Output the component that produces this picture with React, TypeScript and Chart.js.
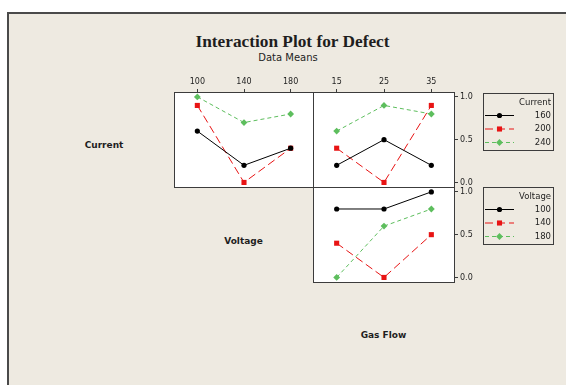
import React, { useEffect, useRef } from 'react';
import { Chart, registerables } from 'chart.js';

Chart.register(...registerables);

// Factor levels
const voltageLevels = ['100', '140', '180'];
const gasFlowLevels = ['15', '25', '35'];
const currentLevels = ['160', '200', '240'];
const meanTicks = [0, 0.5, 1.0];

// Mean defect for each Current level across Voltage
const current160ByVoltage = [0.6, 0.2, 0.4];
const current200ByVoltage = [0.9, 0.0, 0.4];
const current240ByVoltage = [1.0, 0.7, 0.8];

// Mean defect for each Current level across Gas Flow
const current160ByGasFlow = [0.2, 0.5, 0.2];
const current200ByGasFlow = [0.4, 0.0, 0.9];
const current240ByGasFlow = [0.6, 0.9, 0.8];

// Mean defect for each Voltage level across Gas Flow
const voltage100ByGasFlow = [0.8, 0.8, 1.0];
const voltage140ByGasFlow = [0.4, 0.0, 0.5];
const voltage180ByGasFlow = [0.0, 0.6, 0.8];

const Y_MIN = -0.065;
const Y_MAX = 1.057;

const AXIS_COLOR = '#3c3c3c';
const TEXT_COLOR = '#1e1e1e';
const BG = '#EEEAE1';

type Marker = 'circle' | 'rect' | 'rectRot';
const SERIES_STYLES: { color: string; dash: number[]; marker: Marker; radius: number }[] = [
  { color: '#000000', dash: [], marker: 'circle', radius: 2.6 },
  { color: '#E81414', dash: [8, 4], marker: 'rect', radius: 3.6 },
  { color: '#5DBE5D', dash: [4, 3], marker: 'rectRot', radius: 3.4 },
];

function drawMarker(ctx: CanvasRenderingContext2D, m: Marker, x: number, y: number, r: number, color: string) {
  ctx.fillStyle = color;
  ctx.beginPath();
  if (m === 'circle') {
    ctx.arc(x, y, r, 0, Math.PI * 2);
  } else if (m === 'rect') {
    const s = r * Math.SQRT1_2;
    ctx.rect(x - s, y - s, 2 * s, 2 * s);
  } else {
    ctx.moveTo(x - r, y);
    ctx.lineTo(x, y - r);
    ctx.lineTo(x + r, y);
    ctx.lineTo(x, y + r);
    ctx.closePath();
  }
  ctx.fill();
}

// White plotting area with a thin frame on all four sides
const panelFrame = {
  id: 'panelFrame',
  beforeDraw(chart: any) {
    const { ctx, chartArea: a } = chart;
    ctx.save();
    ctx.fillStyle = '#ffffff';
    ctx.fillRect(a.left, a.top, a.right - a.left, a.bottom - a.top);
    ctx.restore();
  },
  afterDraw(chart: any) {
    const { ctx, chartArea: a } = chart;
    ctx.save();
    ctx.strokeStyle = AXIS_COLOR;
    ctx.lineWidth = 1;
    ctx.strokeRect(a.left + 0.5, a.top + 0.5, a.right - a.left - 1, a.bottom - a.top - 1);
    ctx.restore();
  },
};

function makeLegend(title: string, offsetTop: number) {
  return {
    id: 'factorLegend',
    afterDraw(chart: any) {
      const { ctx, chartArea: a } = chart;
      const x = Math.round(a.right + 28);
      const y = Math.round(a.top + offsetTop);
      const w = 70;
      const h = 57;
      ctx.save();
      ctx.strokeStyle = AXIS_COLOR;
      ctx.lineWidth = 1;
      ctx.strokeRect(x + 0.5, y + 0.5, w, h);
      ctx.font = '8.5px "DejaVu Sans"';
      ctx.textAlign = 'right';
      ctx.textBaseline = 'middle';
      ctx.fillStyle = TEXT_COLOR;
      const tx = x + w - 2;
      ctx.fillText(title, tx, y + 10);
      chart.data.datasets.forEach((ds: any, i: number) => {
        const st = SERIES_STYLES[i];
        const cy = y + 22.5 + i * 13.5;
        ctx.strokeStyle = st.color;
        ctx.setLineDash(st.dash);
        ctx.beginPath();
        ctx.moveTo(x + 2, cy);
        ctx.lineTo(x + 31, cy);
        ctx.stroke();
        ctx.setLineDash([]);
        drawMarker(ctx, st.marker, x + 16.5, cy, st.radius, st.color);
        ctx.fillStyle = TEXT_COLOR;
        ctx.fillText(String(ds.label), tx, cy);
      });
      ctx.restore();
    },
  };
}

type PanelProps = {
  left: number;
  top: number;
  width: number;
  height: number;
  categories: string[];
  series: number[][];
  names: string[];
  showX: boolean;
  showY: boolean;
  topAxis: number;
  rightAxis: number;
  padBottom: number;
  legendTitle?: string;
  legendTop?: number;
};

function Panel(p: PanelProps) {
  const ref = useRef<HTMLCanvasElement>(null);
  useEffect(() => {
    if (!ref.current) return;
    const tickFont = { family: 'DejaVu Sans', size: 8 };
    const plugins: any[] = [panelFrame];
    if (p.legendTitle) plugins.push(makeLegend(p.legendTitle, p.legendTop || 0));
    const chart = new Chart(ref.current, {
      type: 'line',
      data: {
        labels: p.categories,
        datasets: p.series.map((d, i) => {
          const st = SERIES_STYLES[i];
          return {
            label: p.names[i],
            data: d,
            borderColor: st.color,
            backgroundColor: st.color,
            borderWidth: 1,
            borderDash: st.dash,
            pointStyle: st.marker,
            pointRadius: st.radius,
            pointBorderWidth: 0,
            pointBackgroundColor: st.color,
            tension: 0,
            fill: false,
            clip: false as any,
          };
        }),
      },
      options: {
        animation: false,
        responsive: false,
        maintainAspectRatio: false,
        devicePixelRatio: 1,
        events: [],
        layout: { autoPadding: false, padding: { top: 0, left: 0, right: 0, bottom: p.padBottom } },
        plugins: {
          legend: { display: false },
          tooltip: { enabled: false },
          title: { display: false },
        },
        scales: {
          x: {
            type: 'category',
            position: 'top',
            offset: true,
            display: p.showX,
            grid: { drawOnChartArea: false, tickLength: 3, color: AXIS_COLOR, offset: false },
            border: { display: false },
            ticks: { color: TEXT_COLOR, font: tickFont, padding: 2, maxRotation: 0, autoSkip: false },
            afterFit: (s: any) => {
              s.height = p.topAxis;
              s.paddingLeft = 0;
              s.paddingRight = 0;
            },
          },
          y: {
            type: 'linear',
            position: 'right',
            min: Y_MIN,
            max: Y_MAX,
            bounds: 'data',
            display: p.showY,
            grid: { drawOnChartArea: false, tickLength: 3, color: AXIS_COLOR },
            border: { display: false },
            afterBuildTicks: (s: any) => {
              s.ticks = meanTicks.map((v) => ({ value: v }));
            },
            ticks: {
              color: TEXT_COLOR,
              font: tickFont,
              padding: 2,
              callback: (v: any) => Number(v).toFixed(1),
            },
            afterFit: (s: any) => {
              s.width = p.rightAxis;
              s.paddingTop = 0;
              s.paddingBottom = 0;
            },
          },
        },
      } as any,
      plugins,
    });
    return () => chart.destroy();
  }, []);
  return (
    <canvas
      ref={ref}
      width={p.width}
      height={p.height}
      style={{ position: 'absolute', left: p.left, top: p.top, width: p.width, height: p.height }}
    />
  );
}

function Label(props: { text: string; cx: number; top: number; size: number; family: string; bold?: boolean }) {
  const w = 300;
  return (
    <div
      style={{
        position: 'absolute',
        left: props.cx - w / 2,
        top: props.top,
        width: w,
        textAlign: 'center',
        fontFamily: props.family,
        fontSize: props.size,
        lineHeight: `${props.size}px`,
        fontWeight: props.bold ? 'bold' : 'normal',
        color: TEXT_COLOR,
        whiteSpace: 'nowrap',
      }}
    >
      {props.text}
    </div>
  );
}

export default function App() {
  return (
    <div style={{ position: 'fixed', left: 0, top: 0, width: 566, height: 387, background: '#ffffff', overflow: 'hidden' }}>
      <div
        style={{
          position: 'absolute',
          left: 7,
          top: 12,
          width: 570,
          height: 373,
          boxSizing: 'border-box',
          background: BG,
          borderTop: '2px solid #4a4a4a',
          borderLeft: '2px solid #4a4a4a',
        }}
      />
      <Label text="Interaction Plot for Defect" cx={292.5} top={33} size={17.3} family='"Liberation Serif", serif' bold />
      <Label text="Data Means" cx={288} top={52.5} size={10} family='"DejaVu Sans", sans-serif' />
      <Label text="Current" cx={104} top={140.7} size={9} family='"DejaVu Sans", sans-serif' bold />
      <Label text="Voltage" cx={243.5} top={236.7} size={9} family='"DejaVu Sans", sans-serif' bold />
      <Label text="Gas Flow" cx={383.5} top={330.7} size={9} family='"DejaVu Sans", sans-serif' bold />

      <Panel
        left={174}
        top={70}
        width={140}
        height={118}
        categories={voltageLevels}
        series={[current160ByVoltage, current200ByVoltage, current240ByVoltage]}
        names={currentLevels}
        showX={true}
        showY={false}
        topAxis={22}
        rightAxis={0}
        padBottom={0}
      />
      <Panel
        left={313}
        top={70}
        width={253}
        height={118}
        categories={gasFlowLevels}
        series={[current160ByGasFlow, current200ByGasFlow, current240ByGasFlow]}
        names={currentLevels}
        showX={true}
        showY={true}
        topAxis={22}
        rightAxis={111}
        padBottom={0}
        legendTitle="Current"
        legendTop={1}
      />
      <Panel
        left={313}
        top={187}
        width={253}
        height={106}
        categories={gasFlowLevels}
        series={[voltage100ByGasFlow, voltage140ByGasFlow, voltage180ByGasFlow]}
        names={voltageLevels}
        showX={false}
        showY={true}
        topAxis={0}
        rightAxis={111}
        padBottom={10}
        legendTitle="Voltage"
        legendTop={0}
      />
    </div>
  );
}
